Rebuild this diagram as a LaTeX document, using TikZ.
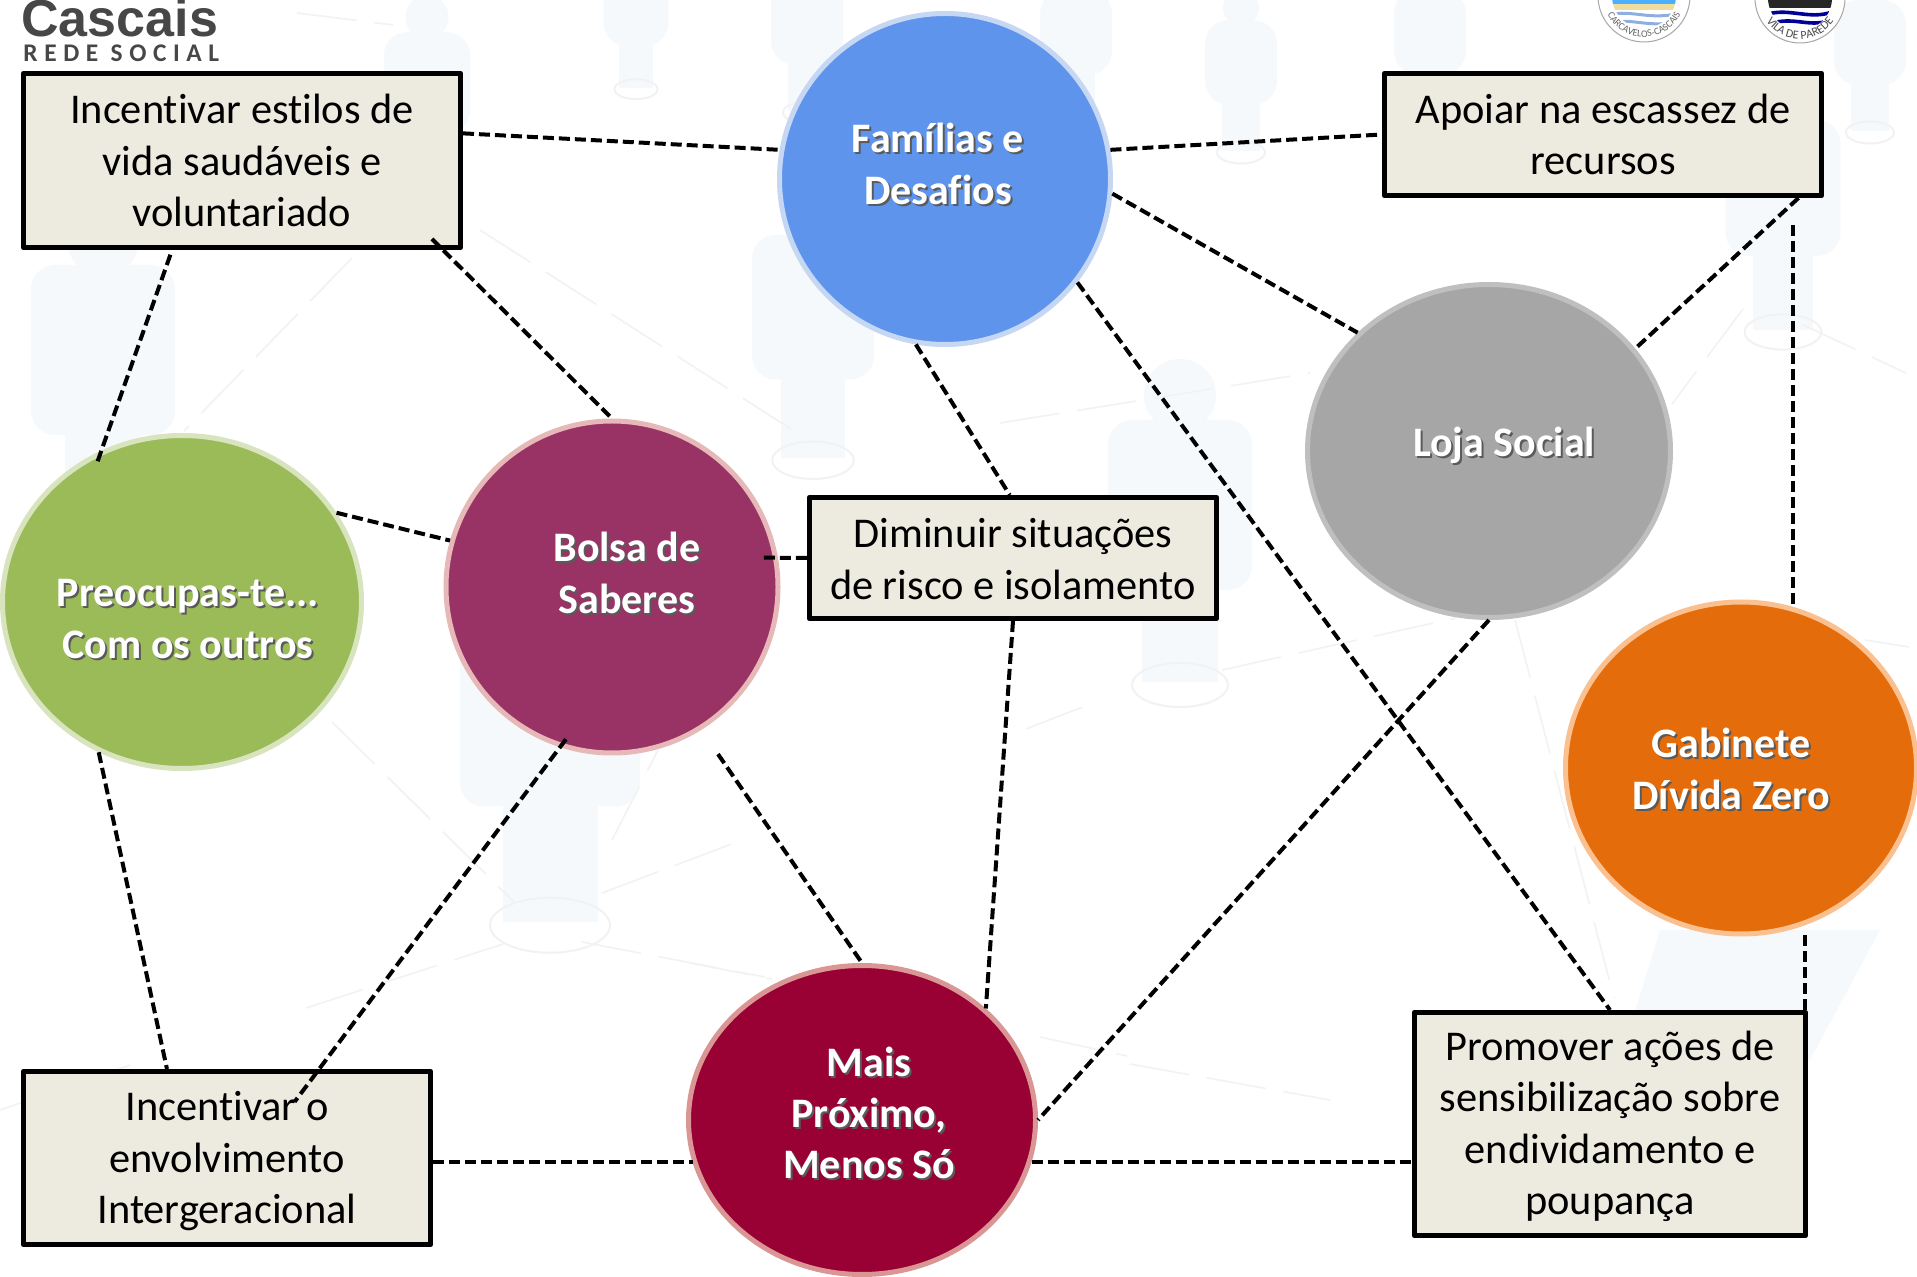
\documentclass[tikz,border=0pt]{standalone}
\usepackage{fontspec}
\usepackage{xcolor}
\usetikzlibrary{shapes.geometric, decorations.text}
\setmainfont{Carlito}[Ligatures=NoCommon]
\newfontfamily\logofont{Liberation Sans}
\newfontfamily\logospaced[LetterSpace=26]{Carlito}

\definecolor{caixa}{HTML}{EDEBE0}
\definecolor{fundo}{HTML}{F6F9FC}
\definecolor{teia}{HTML}{F2F2F2}
\definecolor{sombra}{HTML}{5A5A5A}
\definecolor{famfill}{HTML}{5F94EC}
\definecolor{famedge}{HTML}{C6D7F3}
\definecolor{prefill}{HTML}{9BBB59}
\definecolor{preedge}{HTML}{D7E4BD}
\definecolor{bolfill}{HTML}{993366}
\definecolor{boledge}{HTML}{E6B9B8}
\definecolor{lojfill}{HTML}{A6A6A6}
\definecolor{lojedge}{HTML}{BFBFBF}
\definecolor{gabfill}{HTML}{E46C0A}
\definecolor{gabedge}{HTML}{FAC090}
\definecolor{maifill}{HTML}{990033}
\definecolor{maiedge}{HTML}{D99694}

\newcommand{\sombreado}[1]{\rlap{\raisebox{-1pt}{\hspace{1pt}\textcolor{sombra}{#1}}}#1}
\newcommand{\figura}[3]{
	\begin{scope}[shift={(#1,#2)}, scale=#3]
		\fill[fundo] (0,-25) circle (36);
		\fill[fundo, rounded corners=12pt] (-72,0) rectangle (72,170);
		\fill[fundo] (-38,150) rectangle (38,262);
		\draw[teia, line width=1pt] (0,265) ellipse (48 and 22);
	\end{scope}
}

\begin{document}
\begin{tikzpicture}[x=0.5pt, y=-0.5pt,
		bubble/.style={ellipse, line width=2.5pt, inner sep=0pt, outer sep=1.25pt},
		bubbletext/.style={font=\fontsize{21}{25.7}\selectfont\bfseries, text=white, align=center, inner sep=0pt},
		caixatexto/.style={rectangle, draw=black, fill=caixa, line width=2.8pt, line join=round, inner sep=0pt, outer sep=1.25pt, align=center, font=\fontsize{21.2}{25.7}\selectfont},
		ligacao/.style={line width=2pt, dash pattern=on 5.5pt off 2.5pt},
		rede/.style={teia, line width=0.8pt, dash pattern=on 30pt off 9pt}]
	\useasboundingbox (0,0) rectangle (1917,1277);
	\fill[white] (0,0) rectangle (1917,1277);

	\figura{103}{265}{1}
	\figura{427}{32}{0.6}
	\figura{813}{235}{0.85}
	\figura{550}{594}{1.25}
	\figura{1180}{420}{1}
	\figura{1783}{120}{0.8}
	\figura{636}{-30}{0.45}
	\figura{807}{-20}{0.5}
	\figura{1076}{-10}{0.5}
	\figura{1241}{20}{0.5}
	\figura{1430}{-10}{0.5}
	\figura{1870}{0}{0.5}
	\fill[fundo] (1620,1060) -- (1660,930) -- (1880,930) -- (1810,1060) -- cycle;

	\draw[rede] (332,722) -- (515,903);
	\draw[rede] (352,258) -- (184,431);
	\draw[rede] (480,230) -- (791,429);
	\draw[rede] (602,893) -- (737,842);
	\draw[rede] (582,942) -- (765,977);
	\draw[rede] (306,1008) -- (503,944);
	\draw[rede] (612,840) -- (658,750);
	\draw[rede] (1000,423) -- (1310,373);
	\draw[rede] (1026,729) -- (1085,706);
	\draw[rede] (1222,670) -- (1456,618);
	\draw[rede] (1515,620) -- (1614,998);
	\draw[rede] (1743,309) -- (1672,404);
	\draw[rede] (1801,324) -- (1906,373);
	\draw[rede] (1865,640) -- (1909,647);
	\draw[rede] (690,963) -- (772,979);
	\draw[rede] (1040,1037) -- (1127,1056);
	\draw[rede] (1130,1064) -- (1330,1100);
	\draw[rede] (297,13) -- (393,25);
	\draw[rede] (0,1110) -- (145,1060);

	\node[anchor=base west, inner sep=0pt, text=black!72] (cascais) at (21,37) {\logofont\fontsize{26}{26}\selectfont\bfseries Cascais};
	\node[anchor=base west, inner sep=0pt, text=black!72] (redesocial) at (23,62) {\logospaced\fontsize{12.7}{13}\selectfont\bfseries REDE SOCIAL};

	\fill[white] (1644,-4) circle (46);
	\draw[black!35, line width=0.5pt] (1644,-4) circle (46);
	\begin{scope}
		\clip (1644,-4) circle (32);
		\fill[blue!45!cyan!70] (1610,-40) rectangle (1680,4);
		\fill[yellow!40!brown!45] (1610,4) rectangle (1680,10);
		\draw[cyan!50!blue!45, line width=1.5pt] (1610,15) .. controls (1630,9) and (1650,21) .. (1680,13);
		\draw[cyan!50!blue!45, line width=1.5pt] (1610,23) .. controls (1630,17) and (1650,29) .. (1680,21);
	\end{scope}
	\path[decorate, decoration={text along path, text align=center, text={|\fontsize{5}{6}\selectfont\color{black!60}|CARCAVELOS-CASCAIS}}] (1644,-4) ++(165:41) arc[start angle=165, end angle=15, radius=41];

	\fill[white] (1800,-2) circle (45);
	\draw[black!35, line width=0.5pt] (1800,-2) circle (45);
	\begin{scope}
		\clip (1800,-2) circle (32);
		\fill[black!85] (1760,-40) rectangle (1840,8);
		\draw[blue!60!black, line width=1.8pt] (1768,14) .. controls (1790,8) and (1810,20) .. (1832,12);
		\draw[blue!60!black, line width=1.8pt] (1772,23) .. controls (1795,17) and (1808,27) .. (1828,21);
	\end{scope}
	\path[decorate, decoration={text along path, text align=center, text={|\fontsize{6}{7}\selectfont\color{black!70}|VILA DE PAREDE}}] (1800,-2) ++(150:41) arc[start angle=150, end angle=30, radius=41];

	\node[bubble, draw=famedge, fill=famfill, minimum width=165.5pt, minimum height=165.5pt] (familias) at (945,179) {};
	\node[bubble, draw=preedge, fill=prefill, minimum width=179.5pt, minimum height=166.5pt] (preocupas) at (182,602) {};
	\node[bubble, draw=boledge, fill=bolfill, minimum width=166pt, minimum height=166pt] (bolsa) at (612,587) {};
	\node[bubble, draw=lojedge, fill=lojfill, minimum width=181.5pt, minimum height=166.5pt] (loja) at (1489,451) {};
	\node[bubble, draw=gabedge, fill=gabfill, minimum width=175.5pt, minimum height=166pt] (gabinete) at (1741,768) {};
	\node[bubble, draw=maiedge, fill=maifill, minimum width=173.5pt, minimum height=154.5pt] (mais) at (862,1120) {};

	\node[bubbletext] (familiastxt) at (938,165) {\sombreado{Famílias e}\\\sombreado{Desafios}};
	\node[bubbletext] (preocupastxt) at (188,620) {\sombreado{Preocupas-te...}\\\sombreado{Com os outros}};
	\node[bubbletext] (bolsatxt) at (627,574) {\sombreado{Bolsa de}\\\sombreado{Saberes}};
	\node[bubbletext] (lojatxt) at (1504,446) {\sombreado{Loja Social}};
	\node[bubbletext] (gabinetetxt) at (1731,770) {\sombreado{Gabinete}\\\sombreado{Dívida Zero}};
	\node[bubbletext] (maistxt) at (869,1114) {\sombreado{Mais}\\\sombreado{Próximo,}\\\sombreado{Menos Só}};

	\node[caixatexto, minimum width=218.5pt, minimum height=87pt] (estilos) at (242,160.5) {Incentivar estilos de\\vida saudáveis e\\voluntariado};
	\node[caixatexto, minimum width=218.5pt, minimum height=61pt] (escassez) at (1603,134.5) {Apoiar na escassez de\\recursos};
	\node[caixatexto, minimum width=203.5pt, minimum height=60.5pt] (risco) at (1013,558) {\rule{0pt}{15.5pt}Diminuir situações\\de risco e isolamento};
	\node[caixatexto, minimum width=203.5pt, minimum height=86.5pt] (intergeracional) at (227,1158) {\rule{0pt}{18pt}Incentivar o\\envolvimento\\Intergeracional};
	\node[caixatexto, minimum width=195.5pt, minimum height=111.5pt] (poupanca) at (1610,1124) {\rule{0pt}{17pt}Promover ações de\\sensibilização sobre\\endividamento e\\poupança};

	\draw[ligacao] (estilos.7) -- (familias.170);
	\draw[ligacao] (familias.10) -- (escassez.west);
	\draw[ligacao] (familias.-5) -- (loja.138);
	\draw[ligacao] (familias.-100) -- (risco.93);
	\draw[ligacao] (familias.-38) -- (poupanca.north);
	\draw[ligacao, shorten <=2.5pt, shorten >=-8pt] (estilos.-128) -- (preocupas.118);
	\draw[ligacao, shorten <=-7.8pt] (estilos.-24) -- (bolsa.north);
	\draw[ligacao] (preocupas.30) -- (bolsa.164);
	\draw[ligacao, shorten <=-7pt] (bolsa.10) -- (risco.west);
	\draw[ligacao] (preocupas.-119) -- (intergeracional.124);
	\draw[ligacao, shorten <=-5pt, shorten >=-20.5pt] (bolsa.-108) -- (intergeracional.44);
	\draw[ligacao, shorten <=14.7pt] (bolsa.-58) -- (mais.north);
	\draw[ligacao] (risco.south) -- (mais.42);
	\draw[ligacao] (loja.south) -- (mais.east);
	\draw[ligacao] (escassez.-18) -- (loja.35);
	\draw[ligacao, shorten <=13.5pt] (gabinete.72 |- escassez.south) -- (gabinete.72);
	\draw[ligacao, shorten <=5pt] (gabinete.-68) -- (gabinete.-68 |- poupanca.north);
	\draw[ligacao] (intergeracional.east |- mais.194) -- (mais.194);
	\draw[ligacao] (mais.-14) -- (poupanca.west |- mais.-14);
\end{tikzpicture}
\end{document}
